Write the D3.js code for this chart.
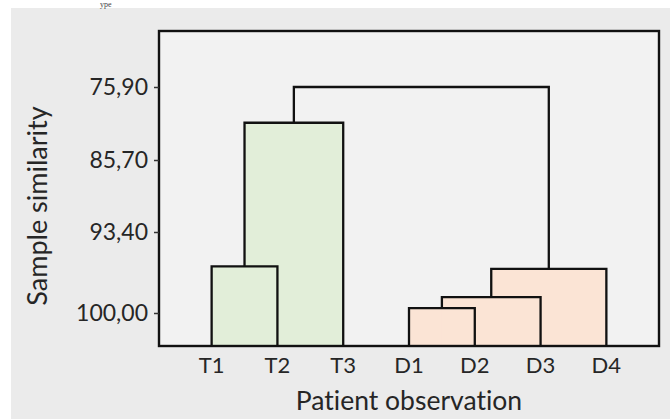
<!DOCTYPE html>
<html>
<head>
<meta charset="utf-8">
<script src="https://cdn.jsdelivr.net/npm/d3@7"></script>
<style>
  body { margin: 0; background: #fff; }
  svg text { font-family: Lato, "Open Sans", sans-serif; fill: #262626; font-variant-ligatures: none; }
</style>
</head>
<body>
<div id="chart"></div>
<script>
// leaves, in the order they sit on the x axis
const leaves = ["T1", "T2", "T3", "D1", "D2", "D3", "D4"]

// merges in order; C1..C6 are the clusters they make
const mergeA = ["T1", "C1", "D1", "C3", "C4", "C2"]
const mergeB = ["T2", "T3", "D2", "D3", "D4", "C5"]
const mergeSim = [96.2, 80.7, 99.6, 98.7, 96.4, 75.9]
const mergeGroup = ["T", "T", "D", "D", "D", "all"]

const tickValues = [75.9, 85.7, 93.4, 100]
const tickLabels = ["75,90", "85,70", "93,40", "100,00"]

const groupFill = { T: "#e2eed9", D: "#fbe4d5", all: "none" }

const width = 670, height = 419
const margin = { top: 31, left: 159 }
const innerW = 500, innerH = 315

const svg = d3.select("#chart").append("svg")
    .attr("width", width)
    .attr("height", height)

// grey panel behind the figure
svg.append("rect")
    .attr("x", 11).attr("y", 8)
    .attr("width", width - 11).attr("height", height - 8)
    .attr("fill", "#ebebeb")

// bit of text from the page above
svg.append("text")
    .attr("x", 100).attr("y", 7)
    .style("font-family", "'Liberation Serif', serif")
    .style("font-size", "8px")
    .style("fill", "#444")
    .text("ype")

const g = svg.append("g")
    .attr("transform", `translate(${margin.left},${margin.top})`)

g.append("rect")
    .attr("width", innerW).attr("height", innerH)
    .attr("fill", "#f2f2f2")

const x = d3.scalePoint().domain(leaves).range([0, innerW]).padding(0.8)

// the similarity axis is not evenly spaced in the source, so piecewise
const y = d3.scaleLinear().domain(tickValues).range([56, 129, 201, 282])

// work out where every node sits
const pos = {}
leaves.forEach(l => pos[l] = { x: x(l), y: innerH })
const nodes = mergeSim.map((s, i) => {
    const a = pos[mergeA[i]], b = pos[mergeB[i]]
    const n = { a, b, top: y(s), group: mergeGroup[i] }
    pos["C" + (i + 1)] = { x: (a.x + b.x) / 2, y: y(s) }
    return n
})

// fills first so the lines sit on top
g.selectAll(".fill")
    .data(nodes.filter(d => d.group != "all"))
    .enter()
    .append("rect")
    .attr("class", "fill")
    .attr("x", d => d.a.x)
    .attr("y", d => d.top)
    .attr("width", d => d.b.x - d.a.x)
    .attr("height", d => innerH - d.top)
    .attr("fill", d => groupFill[d.group])

g.selectAll(".link")
    .data(nodes)
    .enter()
    .append("path")
    .attr("class", "link")
    .attr("d", d => `M${d.a.x},${d.a.y}V${d.top}H${d.b.x}V${d.b.y}`)
    .attr("fill", "none")
    .attr("stroke", "#111")
    .attr("stroke-width", 2.3)

g.append("rect")
    .attr("width", innerW).attr("height", innerH)
    .attr("fill", "none")
    .attr("stroke", "#111")
    .attr("stroke-width", 2.4)

// y axis
const yAxis = g.append("g")
    .call(d3.axisLeft(y).tickValues(tickValues)
        .tickFormat((d, i) => tickLabels[i])
        .tickSize(5).tickPadding(6))
yAxis.select(".domain").remove()
yAxis.selectAll("line").attr("stroke", "#333").attr("stroke-width", 1.5)
yAxis.selectAll("text")
    .style("font-size", "23px")
    .style("font-family", "Lato, sans-serif")
    .style("fill", "#262626")

// leaf labels
g.selectAll(".leaf")
    .data(leaves)
    .enter()
    .append("text")
    .attr("class", "leaf")
    .attr("x", d => x(d))
    .attr("y", innerH + 27)
    .attr("text-anchor", "middle")
    .style("font-size", "22px")
    .text(d => d)

svg.append("text")
    .attr("x", margin.left + innerW / 2)
    .attr("y", 410)
    .attr("text-anchor", "middle")
    .style("font-size", "26.5px")
    .text("Patient observation")

svg.append("text")
    .attr("transform", "translate(47,206) rotate(-90)")
    .attr("text-anchor", "middle")
    .style("font-size", "27px")
    .text("Sample similarity")
</script>
</body>
</html>
